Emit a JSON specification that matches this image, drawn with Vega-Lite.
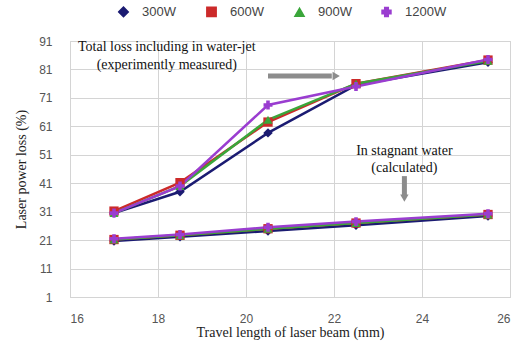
{
  "$schema": "https://vega.github.io/schema/vega-lite/v6.json",
  "width": 440,
  "height": 256,
  "autosize": {"type": "none"},
  "padding": {"left": 70, "top": 41, "right": 19, "bottom": 51},
  "background": "white",
  "config": {
    "view": {"stroke": "#c8c8c8"},
    "axis": {"gridColor": "#d4d4d4", "domainColor": "#bfbfbf", "tickColor": "#bfbfbf", "labelColor": "#555555", "labelFont": "Liberation Sans", "labelFontSize": 12, "titleFont": "Liberation Serif", "titleFontSize": 14, "titleFontWeight": "normal", "titleColor": "#222222", "labelOverlap": false},
    "legend": {"labelFont": "Liberation Sans", "labelFontSize": 13, "labelColor": "#444444", "columnPadding": 27, "symbolSize": 60, "labelOffset": 12}
  },
  "datasets": {
    "series": [
      {"power": "300W", "kind": "total", "x": 17, "y": 30.5},
      {"power": "300W", "kind": "total", "x": 18.5, "y": 38},
      {"power": "300W", "kind": "total", "x": 20.5, "y": 58.7},
      {"power": "300W", "kind": "total", "x": 22.5, "y": 75.5},
      {"power": "300W", "kind": "total", "x": 25.5, "y": 83.5},
      {"power": "600W", "kind": "total", "x": 17, "y": 31.2},
      {"power": "600W", "kind": "total", "x": 18.5, "y": 41.2},
      {"power": "600W", "kind": "total", "x": 20.5, "y": 62.5},
      {"power": "600W", "kind": "total", "x": 22.5, "y": 76},
      {"power": "600W", "kind": "total", "x": 25.5, "y": 84.3},
      {"power": "900W", "kind": "total", "x": 17, "y": 30.5},
      {"power": "900W", "kind": "total", "x": 18.5, "y": 40},
      {"power": "900W", "kind": "total", "x": 20.5, "y": 63.3},
      {"power": "900W", "kind": "total", "x": 22.5, "y": 76},
      {"power": "900W", "kind": "total", "x": 25.5, "y": 84},
      {"power": "1200W", "kind": "total", "x": 17, "y": 30.5},
      {"power": "1200W", "kind": "total", "x": 18.5, "y": 40},
      {"power": "1200W", "kind": "total", "x": 20.5, "y": 68.5},
      {"power": "1200W", "kind": "total", "x": 22.5, "y": 75},
      {"power": "1200W", "kind": "total", "x": 25.5, "y": 84.5},
      {"power": "300W", "kind": "stagnant", "x": 17, "y": 20.7},
      {"power": "300W", "kind": "stagnant", "x": 18.5, "y": 22.2},
      {"power": "300W", "kind": "stagnant", "x": 20.5, "y": 24.2},
      {"power": "300W", "kind": "stagnant", "x": 22.5, "y": 26.2},
      {"power": "300W", "kind": "stagnant", "x": 25.5, "y": 29.5},
      {"power": "600W", "kind": "stagnant", "x": 17, "y": 21.2},
      {"power": "600W", "kind": "stagnant", "x": 18.5, "y": 22.7},
      {"power": "600W", "kind": "stagnant", "x": 20.5, "y": 25},
      {"power": "600W", "kind": "stagnant", "x": 22.5, "y": 27},
      {"power": "600W", "kind": "stagnant", "x": 25.5, "y": 30},
      {"power": "900W", "kind": "stagnant", "x": 17, "y": 21.2},
      {"power": "900W", "kind": "stagnant", "x": 18.5, "y": 22.7},
      {"power": "900W", "kind": "stagnant", "x": 20.5, "y": 25},
      {"power": "900W", "kind": "stagnant", "x": 22.5, "y": 27},
      {"power": "900W", "kind": "stagnant", "x": 25.5, "y": 30},
      {"power": "1200W", "kind": "stagnant", "x": 17, "y": 21.5},
      {"power": "1200W", "kind": "stagnant", "x": 18.5, "y": 23},
      {"power": "1200W", "kind": "stagnant", "x": 20.5, "y": 25.5},
      {"power": "1200W", "kind": "stagnant", "x": 22.5, "y": 27.5},
      {"power": "1200W", "kind": "stagnant", "x": 25.5, "y": 30.3}
    ],
    "notes": [
      {"x": 18.2, "y": 89, "text": "Total loss including in water-jet"},
      {"x": 18.2, "y": 82.5, "text": "(experimently measured)"},
      {"x": 23.6, "y": 52.3, "text": "In stagnant water"},
      {"x": 23.6, "y": 46.2, "text": "(calculated)"}
    ],
    "arrows": [
      {"x": 20.5, "x2": 21.95, "y": 78.7, "y2": 78.7},
      {"x": 23.6, "x2": 23.6, "y": 43.5, "y2": 36.5}
    ],
    "heads": [
      {"x": 22.05, "y": 78.7, "dir": "right"},
      {"x": 23.6, "y": 35.8, "dir": "down"}
    ]
  },
  "encoding": {
    "x": {"field": "x", "type": "quantitative", "scale": {"domain": [16, 26], "nice": false}, "axis": {"values": [16, 18, 20, 22, 24, 26], "title": "Travel length  of laser beam (mm)", "titlePadding": 1, "labelPadding": 16, "ticks": false, "domain": false}},
    "y": {"field": "y", "type": "quantitative", "scale": {"domain": [1, 91], "nice": false}, "axis": {"values": [1, 11, 21, 31, 41, 51, 61, 71, 81, 91], "title": "Laser power loss (%)", "titlePadding": 10, "labelPadding": 18, "ticks": false, "domain": false}}
  },
  "layer": [
    {
      "data": {"name": "series"},
      "mark": {"type": "line", "strokeWidth": 2.5},
      "encoding": {
        "color": {"field": "power", "type": "nominal", "sort": ["300W", "600W", "900W", "1200W"], "scale": {"domain": ["300W", "600W", "900W", "1200W"], "range": ["#1b1b72", "#cc2a2a", "#3aa63a", "#9a3dd0"]}, "legend": {"title": null, "orient": "none", "legendX": 47, "legendY": -36, "direction": "horizontal"}},
        "detail": {"field": "kind"},
        "order": {"field": "x", "type": "quantitative"}
      }
    },
    {
      "data": {"name": "series"},
      "mark": {"type": "point", "filled": true, "opacity": 1},
      "encoding": {
        "color": {"field": "power", "type": "nominal", "sort": ["300W", "600W", "900W", "1200W"], "legend": {"title": null, "orient": "none", "legendX": 47, "legendY": -36, "direction": "horizontal"}},
        "shape": {"field": "power", "type": "nominal", "sort": ["300W", "600W", "900W", "1200W"], "scale": {"domain": ["300W", "600W", "900W", "1200W"], "range": ["diamond", "square", "triangle-up", "cross"]}, "legend": {"title": null, "orient": "none", "legendX": 47, "legendY": -36, "direction": "horizontal"}},
        "size": {"field": "power", "type": "nominal", "scale": {"domain": ["300W", "600W", "900W", "1200W"], "range": [90, 80, 60, 30]}, "legend": null}
      }
    },
    {
      "data": {"name": "arrows"},
      "mark": {"type": "rule", "color": "#8c8c8c", "strokeWidth": 5},
      "encoding": {
        "x2": {"field": "x2"},
        "y2": {"field": "y2"}
      }
    },
    {
      "data": {"name": "heads"},
      "transform": [{"filter": "datum.dir === 'right'"}],
      "mark": {"type": "point", "filled": true, "color": "#8c8c8c", "opacity": 1, "size": 70, "shape": "triangle-right"},
      "encoding": {}
    },
    {
      "data": {"name": "heads"},
      "transform": [{"filter": "datum.dir === 'down'"}],
      "mark": {"type": "point", "filled": true, "color": "#8c8c8c", "opacity": 1, "size": 70, "shape": "triangle-down"},
      "encoding": {}
    },
    {
      "data": {"name": "notes"},
      "mark": {"type": "text", "font": "Liberation Serif", "fontSize": 14, "color": "#111111", "align": "center", "baseline": "middle"},
      "encoding": {
        "text": {"field": "text"}
      }
    }
  ]
}
